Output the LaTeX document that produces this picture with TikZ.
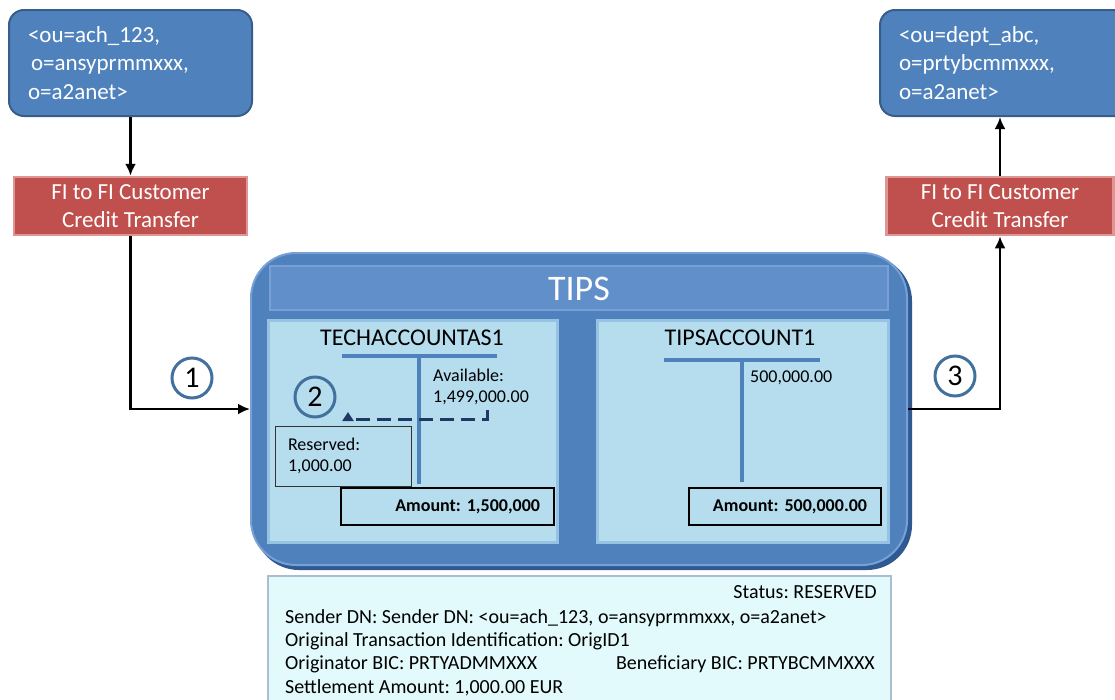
\documentclass[tikz,border=0pt]{standalone}
\usepackage{fontspec}
\setmainfont{Carlito}
\usetikzlibrary{arrows.meta,positioning,calc}
\definecolor{DnBlue}{RGB}{79,129,189}
\definecolor{DnEdge}{RGB}{56,93,138}
\definecolor{MsgRed}{RGB}{192,80,77}
\definecolor{MsgEdge}{RGB}{222,150,148}
\definecolor{TipsEdge}{RGB}{47,90,145}
\definecolor{TipsLight}{RGB}{120,160,215}
\definecolor{BarFill}{RGB}{96,143,202}
\definecolor{Panel}{RGB}{182,221,238}
\definecolor{PanelEdge}{RGB}{150,195,228}
\definecolor{Navy}{RGB}{31,56,100}
\definecolor{InfoFill}{RGB}{226,250,252}
\definecolor{InfoEdge}{RGB}{170,190,210}
\definecolor{Ring}{RGB}{65,113,156}
\newcommand{\pxfont}[2]{\fontsize{#1}{#2}\selectfont}
\frenchspacing

\begin{document}
\begin{tikzpicture}[x=1pt,y=-1pt,
  dnbox/.style={rounded corners=15pt, fill=DnBlue, draw=DnEdge, line width=2pt,
    text=white, font=\pxfont{23}{28.5}, align=left, inner xsep=19pt, inner ysep=0pt,
    minimum height=106pt, text width=205pt},
  msgbox/.style={fill=MsgRed, draw=MsgEdge, line width=2.5pt, text=white,
    font=\pxfont{23}{28}, align=center, minimum height=58pt, inner sep=0pt},
  flow/.style={-{Latex[length=12pt,width=11pt]}, line width=2.6pt},
  holdflow/.style={draw=Navy, line width=3pt, dash pattern=on 14pt off 7pt,
    -{Triangle[length=9pt,width=11pt]}},
  ringnum/.style={circle, draw=Ring, line width=3pt, minimum size=40pt,
    inner sep=0pt, font=\pxfont{30}{32}},
  panel/.style={fill=Panel, draw=PanelEdge, line width=3pt},
  tbar/.style={draw=DnBlue, line width=4pt},
  acctitle/.style={font=\pxfont{24}{28}, inner sep=0pt},
  numtext/.style={font=\pxfont{18}{21}, align=left, inner sep=0pt, anchor=west},
  amountbox/.style={draw=black, line width=1.8pt, fill=Panel, minimum height=37pt,
    font=\bfseries\pxfont{18}{21}, align=right, inner xsep=14pt, inner ysep=0pt},
  infoline/.style={font=\pxfont{20}{23}, inner sep=0pt, anchor=west}
]
\clip (0,0) rectangle (1115,699);

% distinguished names
\node[dnbox, minimum width=243pt] (srcdn) at (130.5,63)
  {<ou=ach\_123,\\\hspace{3pt}o=ansyprmmxxx,\\o=a2anet>};
\node[dnbox, minimum width=250pt, text width=212pt] (dstdn) at (1005,63)
  {<ou=dept\_abc,\\o=prtybcmmxxx,\\o=a2anet>};

% messages
\node[msgbox, minimum width=233pt] (srcmsg) at (130.5,206) {FI to FI Customer\\Credit Transfer};
\node[msgbox, minimum width=227pt] (dstmsg) at (1000,206) {FI to FI Customer\\Credit Transfer};

% TIPS platform
\fill[TipsEdge] (254,256) [rounded corners=45pt] rectangle (912,570);
\node[rounded corners=45pt, fill=DnBlue, draw=TipsLight, line width=2pt,
  minimum width=656pt, minimum height=312pt] (tips) at (579,409) {};
\node[fill=BarFill, draw=TipsLight, line width=2pt,
  minimum width=618pt, minimum height=44pt] (tipsbar) at (579,288) {};
\node[font=\pxfont{36}{40}, text=white, inner sep=0pt] (tipstitle) at (579,289) {TIPS};

% technical account
\node[panel, minimum width=289pt, minimum height=222pt] (techpanel) at (412.5,431) {};
\node[acctitle] (techtitle) at (412,338) {TECHACCOUNTAS1};
\draw[tbar] (342,356) -- (497,356);
\draw[tbar] (419,356) -- (419,484);
\node[numtext] (techavail) at (433,387) {Available:\\1,499,000.00};
\node[draw=black!80, line width=1pt, fill=Panel, minimum width=136pt, minimum height=60pt,
  text width=110pt, align=left, inner xsep=13pt, font=\pxfont{18}{21}] (techresv)
  at (343,456) {Reserved:\\1,000.00};
\node[amountbox, minimum width=213pt, text width=185pt] (techamount) at (447.5,506.5)
  {Amount: 1,500,000};
\coordinate (holdfrom) at (487,410);
\coordinate (holdto) at (348,412);
\draw[holdflow] (holdfrom) -- ++(0,9) -| (holdto);

% TIPS account
\node[panel, minimum width=291pt, minimum height=222pt] (tipspanel) at (742.5,431) {};
\node[acctitle] (tipsacctitle) at (740,338) {TIPSACCOUNT1};
\draw[tbar] (664,360) -- (820,360);
\draw[tbar] (742,360) -- (742,482);
\node[numtext] (tipsavail) at (750,378) {500,000.00};
\node[amountbox, minimum width=192pt, text width=164pt] (tipsamount) at (785,506.5)
  {Amount: 500,000.00};

% steps
\node[ringnum] (stepone) at (192,378) {1};
\node[ringnum] (steptwo) at (315,397) {2};
\node[ringnum] (stepthree) at (955,376) {3};

% connectors
\draw[flow] (srcdn) -- (srcmsg);
\draw[flow] (srcmsg.south) |- (tips.west);
\draw[flow] (tips.east) -| (dstmsg.south);
\draw[flow] (dstmsg.north) -- (dstmsg.north |- dstdn.south);

% transaction details
\node[fill=InfoFill, draw=InfoEdge, line width=2pt, minimum width=623pt,
  minimum height=144pt] (infobox) at (579.5,648) {};
\node[infoline, anchor=east] (status) at (877,592) {Status: RESERVED};
\node[infoline] (sender) at (285,618) {Sender DN: Sender DN: <ou=ach\_123, o=ansyprmmxxx, o=a2anet>};
\node[infoline] (origid) at (285,641) {Original Transaction Identification: OrigID1};
\node[infoline] (origbic) at (285,664) {Originator BIC: PRTYADMMXXX};
\node[infoline, anchor=east] (benebic) at (875,664) {Beneficiary BIC: PRTYBCMMXXX};
\node[infoline] (settle) at (285,688) {Settlement Amount: 1,000.00 EUR};
\end{tikzpicture}
\end{document}
